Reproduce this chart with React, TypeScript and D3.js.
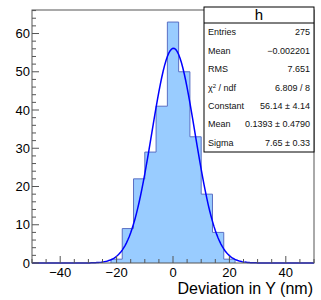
import React from 'react';
import * as d3 from 'd3';

// histogram bins (width 4 nm), only the non-empty ones
const binEdges = [-22, -18, -14, -10, -6, -2, 2, 6, 10, 14, 18, 22];
const binCounts = [1, 9, 22, 29, 41, 63, 50, 33, 18, 8, 1];

const xTicks = [-40, -20, 0, 20, 40];
const yTicks = [0, 10, 20, 30, 40, 50, 60];

const statLabels = ['Entries', 'Mean', 'RMS', 'chi2', 'Constant', 'Mean', 'Sigma'];
const statValues = ['275', '\u22120.002201', '7.651', '6.809 / 8', '56.14 \u00b1 4.14', '0.1393 \u00b1 0.4790', '7.65 \u00b1 0.33'];

// gaussian fit parameters
const fitConstant = 56.14;
const fitMean = 0.1393;
const fitSigma = 7.65;

const W = 321;
const H = 300;
const frame = { left: 32, right: 314, top: 10, bottom: 263 };
const box = { left: 204, right: 314, top: 7, bottom: 152, titleH: 16 };
const font = '"Liberation Sans", Arial, Helvetica, sans-serif';

const fmt = (v: number) => (v < 0 ? '\u2212' + Math.abs(v) : String(v));

const App: React.FC = () => {
  const x = d3.scaleLinear().domain([-50, 50]).range([frame.left, frame.right]);
  const yMax = d3.max(binCounts)! * 1.05;
  const y = d3.scaleLinear().domain([0, yMax]).range([frame.bottom, frame.top]);

  // step outline of the histogram, also used as the fill shape
  const outline: [number, number][] = [[binEdges[0], 0]];
  binCounts.forEach((c, i) => {
    outline.push([binEdges[i], c]);
    outline.push([binEdges[i + 1], c]);
  });
  outline.push([binEdges[binEdges.length - 1], 0]);
  const stepLine = d3.line<[number, number]>().x(d => x(d[0])).y(d => y(d[1]));

  const gauss = (v: number) => fitConstant * Math.exp(-0.5 * ((v - fitMean) / fitSigma) ** 2);
  const fitPts = d3.range(-50, 50.001, 0.5).map(v => [v, gauss(v)] as [number, number]);
  const fitLine = d3.line<[number, number]>().x(d => x(d[0])).y(d => Math.min(y(d[1]), frame.bottom));

  const xMinor = d3.range(-50, 50.001, 5).filter(v => !xTicks.includes(v));
  const yMinor = d3.range(0, yMax, 2).filter(v => !yTicks.includes(v));

  const rowH = (box.bottom - box.top - box.titleH) / statLabels.length;

  return (
    <svg width={W} height={H} style={{ position: 'absolute', left: 0, top: 0, background: '#fff' }} fontFamily={font}>
      {/* histogram */}
      <path d={stepLine(outline)! + 'Z'} fill="#99ccff" stroke="none" />
      <path d={stepLine(outline)!} fill="none" stroke="#5a6fc4" strokeWidth={1} />

      {/* fit */}
      <path d={fitLine(fitPts)!} fill="none" stroke="#0000ff" strokeWidth={1.5} />

      {/* frame */}
      <rect
        x={frame.left}
        y={frame.top}
        width={frame.right - frame.left}
        height={frame.bottom - frame.top}
        fill="none"
        stroke="#555"
        strokeWidth={1}
      />

      {/* axes ticks */}
      <g stroke="#555" strokeWidth={1}>
        {xTicks.map(t => (
          <line key={'xM' + t} x1={x(t)} x2={x(t)} y1={frame.bottom} y2={frame.bottom - 7} />
        ))}
        {xMinor.map(t => (
          <line key={'xm' + t} x1={x(t)} x2={x(t)} y1={frame.bottom} y2={frame.bottom - 4} />
        ))}
        {yTicks.map(t => (
          <line key={'yM' + t} x1={frame.left} x2={frame.left + 7} y1={y(t)} y2={y(t)} />
        ))}
        {yMinor.map(t => (
          <line key={'ym' + t} x1={frame.left} x2={frame.left + 4} y1={y(t)} y2={y(t)} />
        ))}
      </g>
      <g fontSize={13} fill="#000">
        {xTicks.map(t => (
          <text key={'xl' + t} x={x(t)} y={277} textAnchor="middle">
            {fmt(t)}
          </text>
        ))}
        {yTicks.map(t => (
          <text key={'yl' + t} x={30} y={y(t) + 4.5} textAnchor="end">
            {fmt(t)}
          </text>
        ))}
      </g>
      <text x={frame.right - 1} y={294} textAnchor="end" fontSize={16} fill="#000">
        Deviation in Y (nm)
      </text>

      {/* stats box */}
      <g>
        <rect
          x={box.left}
          y={box.top}
          width={box.right - box.left}
          height={box.bottom - box.top}
          fill="#fff"
          stroke="#000"
          strokeWidth={1}
        />
        <line x1={box.left} x2={box.right} y1={box.top + box.titleH} y2={box.top + box.titleH} stroke="#000" />
        <text x={(box.left + box.right) / 2} y={box.top + 13} textAnchor="middle" fontSize={15}>
          h
        </text>
        {statLabels.map((lab, i) => {
          const cy = box.top + box.titleH + rowH * (i + 0.5) + 3;
          return (
            <g key={i} fontSize={9} fill="#111">
              <text x={box.left + 4} y={cy}>
                {lab === 'chi2' ? (
                  <>
                    {'\u03c7'}
                    <tspan fontSize={6} dy={-3}>2</tspan>
                    <tspan dy={3}> / ndf</tspan>
                  </>
                ) : (
                  lab
                )}
              </text>
              <text x={box.right - 4} y={cy} textAnchor="end">
                {statValues[i]}
              </text>
            </g>
          );
        })}
      </g>
    </svg>
  );
};

export default App;
